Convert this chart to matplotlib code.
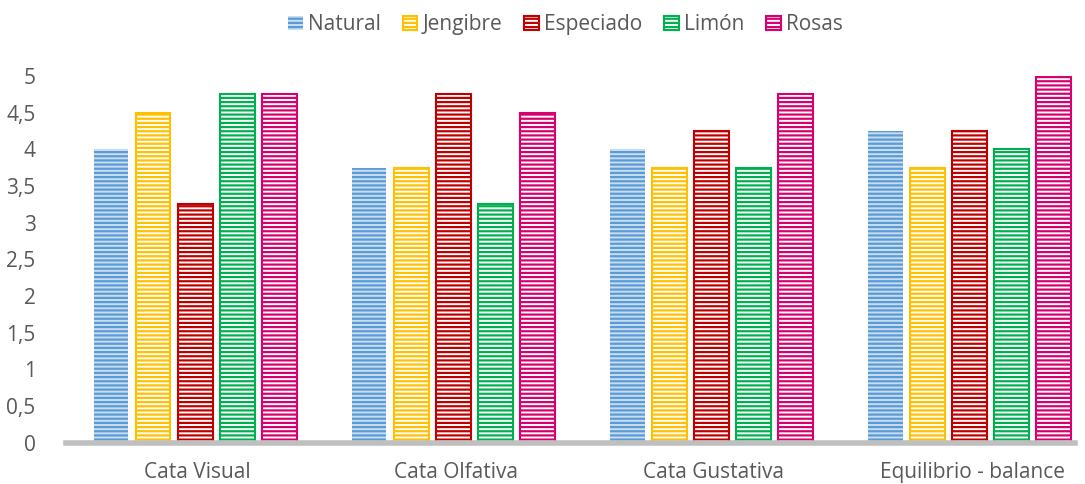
import matplotlib
matplotlib.use("Agg")
import matplotlib.pyplot as plt
import numpy as np

categories = ["Cata Visual", "Cata Olfativa", "Cata Gustativa", "Equilibrio - balance"]
series = ["Natural", "Jengibre", "Especiado", "Limón", "Rosas"]
natural = [4, 3.75, 4, 4.25]
jengibre = [4.5, 3.75, 3.75, 3.75]
especiado = [3.25, 4.75, 4.25, 4.25]
limon = [4.75, 3.25, 3.75, 4]
rosas = [4.75, 4.5, 4.75, 5]
yticks = [0, 0.5, 1, 1.5, 2, 2.5, 3, 3.5, 4, 4.5, 5]

values = [natural, jengibre, especiado, limon, rosas]
colors = ["#5B9BD5", "#FFC000", "#C00000", "#00B050", "#D6006F"]
faces = ["#C9DDF1", "white", "white", "white", "white"]

plt.rcParams['font.family'] = ['Open Sans', 'DejaVu Sans']
plt.rcParams['hatch.linewidth'] = 1.6

fig = plt.figure(figsize=(10.85, 4.84), dpi=100)
ax = fig.add_axes([0.061, 0.085, 0.93, 0.758])

x = np.arange(len(categories))
width = 0.134
step = 0.163
for i, (name, vals) in enumerate(zip(series, values)):
    lw = 0 if i == 0 else 1.5
    ax.bar(x + (i - 2) * step - 0.01, vals, width, label=name, color=faces[i],
           edgecolor=colors[i], linewidth=lw, hatch='----')

ax.set_xlim(-0.51, 3.40)
ax.set_ylim(0, 5)
ax.set_yticks(yticks)
ax.set_yticklabels([("%g" % t).replace(".", ",") for t in yticks])
ax.set_xticks(x)
ax.set_xticklabels(categories)
for s in ['left', 'right', 'top']:
    ax.spines[s].set_visible(False)
ax.spines['bottom'].set_color('#BFBFBF')
ax.spines['bottom'].set_linewidth(4)
ax.tick_params(axis='both', length=0, labelsize=15, colors='#595959')
ax.tick_params(axis='y', pad=22)
ax.tick_params(axis='x', pad=14)

leg = ax.legend(loc='center', bbox_to_anchor=(0.495, 1.14), ncol=5,
                frameon=False, fontsize=15, handlelength=0.7, handleheight=0.7,
                handletextpad=0.25, columnspacing=1.05)
for t in leg.get_texts():
    t.set_color('#595959')

fig.savefig("out.png", dpi=100)
